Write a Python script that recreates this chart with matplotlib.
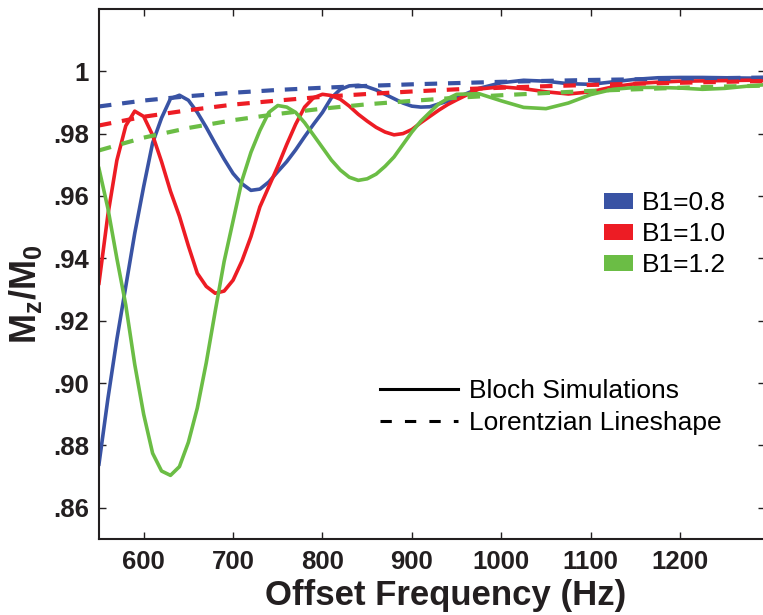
import matplotlib
matplotlib.use('Agg')
import matplotlib.pyplot as plt
from matplotlib.patches import Patch
from matplotlib.lines import Line2D

plt.rcParams['font.family'] = ['Liberation Sans', 'DejaVu Sans']
plt.rcParams['mathtext.fontset'] = 'custom'
plt.rcParams['mathtext.bf'] = 'Liberation Sans:bold'
plt.rcParams['mathtext.rm'] = 'Liberation Sans:bold'

# offset frequency (Hz) for the Bloch simulation curves
freq = [550, 560, 570, 580, 590, 600, 610, 620, 630, 640,
        650, 660, 670, 680, 690, 700, 710, 720, 730, 740,
        750, 760, 770, 780, 790, 800, 810, 820, 830, 840,
        850, 860, 870, 880, 890, 900, 910, 920, 930, 940,
        950, 975, 1000, 1025, 1050, 1075, 1100, 1125, 1150, 1175,
        1200, 1225, 1250, 1275, 1300]

bloch_08 = [0.8740, 0.8950, 0.9140, 0.9310, 0.9480, 0.9630, 0.9770, 0.9850, 0.9912, 0.9923,
            0.9907, 0.9868, 0.9820, 0.9768, 0.9718, 0.9672, 0.9639, 0.9618, 0.9622, 0.9645,
            0.9678, 0.9710, 0.9748, 0.9790, 0.9830, 0.9868, 0.9915, 0.9942, 0.9953, 0.9955,
            0.9950, 0.9940, 0.9926, 0.9912, 0.9898, 0.9888, 0.9885, 0.9886, 0.9895, 0.9904,
            0.9915, 0.9945, 0.9963, 0.9971, 0.9968, 0.9960, 0.9958, 0.9966, 0.9974, 0.9979,
            0.9980, 0.9980, 0.9979, 0.9978, 0.9978]

bloch_10 = [0.9320, 0.9540, 0.9714, 0.9825, 0.9872, 0.9855, 0.9795, 0.9710, 0.9615, 0.9535,
            0.9440, 0.9352, 0.9310, 0.9288, 0.9295, 0.9330, 0.9392, 0.9470, 0.9565, 0.9630,
            0.9695, 0.9765, 0.9830, 0.9885, 0.9915, 0.9926, 0.9922, 0.9910, 0.9888, 0.9862,
            0.9840, 0.9820, 0.9805, 0.9796, 0.9800, 0.9813, 0.9835, 0.9855, 0.9875, 0.9893,
            0.9908, 0.9943, 0.9950, 0.9944, 0.9934, 0.9927, 0.9934, 0.9950, 0.9960, 0.9965,
            0.9968, 0.9969, 0.9970, 0.9971, 0.9971]

bloch_12 = [0.9688, 0.9560, 0.9400, 0.9250, 0.9060, 0.8900, 0.8775, 0.8718, 0.8704, 0.8732,
            0.8810, 0.8920, 0.9065, 0.9230, 0.9390, 0.9520, 0.9650, 0.9740, 0.9810, 0.9868,
            0.9890, 0.9885, 0.9868, 0.9835, 0.9795, 0.9755, 0.9715, 0.9683, 0.9660, 0.9650,
            0.9655, 0.9670, 0.9695, 0.9725, 0.9765, 0.9805, 0.9840, 0.9868, 0.9895, 0.9912,
            0.9926, 0.9928, 0.9905, 0.9884, 0.9880, 0.9898, 0.9925, 0.9942, 0.9948, 0.9948,
            0.9946, 0.9942, 0.9945, 0.9952, 0.9958]

# Lorentzian lineshape (dashed)
freq_lor = [550, 600, 650, 700, 750, 800, 850, 900, 950, 1000, 1050, 1100, 1150, 1200, 1250, 1300]
lor_08 = [0.9887, 0.9906, 0.9920, 0.9931, 0.9940, 0.9947, 0.9953, 0.9958, 0.9962, 0.9966,
          0.9969, 0.9972, 0.9974, 0.9976, 0.9978, 0.9980]
lor_10 = [0.9826, 0.9854, 0.9875, 0.9893, 0.9906, 0.9918, 0.9927, 0.9935, 0.9942, 0.9947,
          0.9952, 0.9956, 0.9960, 0.9963, 0.9966, 0.9969]
lor_12 = [0.9746, 0.9787, 0.9818, 0.9843, 0.9863, 0.9880, 0.9894, 0.9905, 0.9915, 0.9923,
          0.9930, 0.9937, 0.9942, 0.9947, 0.9951, 0.9954]

b1_labels = ['B1=0.8', 'B1=1.0', 'B1=1.2']
colors = ['#3953a4', '#ed1c24', '#6bbd45']
ink = '#231f20'

fig = plt.figure(figsize=(7.63, 6.15), dpi=100)
ax = fig.add_axes([0.1297, 0.1236, 0.873, 0.862])

for ys, c in zip([bloch_08, bloch_10, bloch_12], colors):
    ax.plot(freq, ys, color=c, lw=2.6, solid_joinstyle='round')
for ys, c in zip([lor_08, lor_10, lor_12], colors):
    ax.plot(freq_lor, ys, color=c, lw=3, dashes=(3.0, 2.6))

ax.set_xlim(550, 1295)
ax.set_ylim(0.85, 1.02)
ax.set_xticks([600, 700, 800, 900, 1000, 1100, 1200])
yt = [0.86, 0.88, 0.90, 0.92, 0.94, 0.96, 0.98, 1.0]
ax.set_yticks(yt)
ax.set_yticklabels(['.86', '.88', '.90', '.92', '.94', '.96', '.98', '1'])
ax.tick_params(direction='in', top=True, right=True, length=5, width=1,
               labelsize=18.5, colors=ink)
ax.tick_params(axis='x', pad=8)
ax.tick_params(axis='y', pad=7)
for lab in ax.get_xticklabels() + ax.get_yticklabels():
    lab.set_fontweight('bold')
for s in ax.spines.values():
    s.set_linewidth(1.5)
    s.set_color(ink)

ax.set_xlabel('Offset Frequency (Hz)', fontsize=25, fontweight='bold', color=ink)
ax.xaxis.set_label_coords(0.521, -0.075)
ax.set_ylabel(r'M$_\mathbf{z}$/M$_\mathbf{0}$', fontsize=26, fontweight='bold', color=ink)
ax.yaxis.set_label_coords(-0.083, 0.462)

patches = [Patch(facecolor=c, edgecolor='none') for c in colors]
leg1 = ax.legend(patches, b1_labels, loc='upper left', bbox_to_anchor=(0.758, 0.656),
                 frameon=False, fontsize=19, handlelength=1.1, handleheight=0.57,
                 handletextpad=0.34, labelspacing=0.27, borderpad=0, borderaxespad=0)
ax.add_artist(leg1)

styles = [Line2D([], [], color='black', lw=2.2),
          Line2D([], [], color='black', lw=2.2, dashes=(3.7, 4.3))]
ax.legend(styles, ['Bloch Simulations', 'Lorentzian Lineshape'], loc='upper left',
          bbox_to_anchor=(0.422, 0.302), frameon=False, fontsize=19, handlelength=2.95,
          handletextpad=0.42, labelspacing=0.3, borderpad=0, borderaxespad=0)

fig.savefig('out.png', dpi=100)
